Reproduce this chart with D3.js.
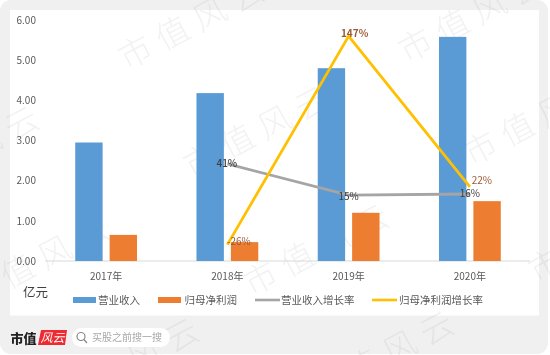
<!DOCTYPE html>
<html><head><meta charset="utf-8">
<script src="https://cdnjs.cloudflare.com/ajax/libs/d3/7.8.5/d3.min.js"></script>
<style>html,body{margin:0;padding:0;background:#fff}svg{display:block;filter:blur(0.35px)}text{font-family:"Noto Sans CJK SC","Noto Sans",sans-serif}</style>
</head><body><svg id="c" width="550" height="355"></svg>
<script>
const categories=["2017年","2018年","2019年","2020年"];
const revenue=[2.95,4.18,4.80,5.58];
const profit=[0.65,0.47,1.20,1.49];
const revenueGrowth=[null,41,15,16];
const profitGrowth=[null,-26,147,22];
const yTicks=[0,1,2,3,4,5,6];
const legendNames=["营业收入","归母净利润","营业收入增长率","归母净利润增长率"];
const watermarkText=["市","值","风","云"];
const watermarks=[[190,22],[255,130],[470,15],[535,118],[35,260],[-35,150],[315,248],[600,235],[380,355],[125,362]];
const svg=d3.select("#c");
svg.append("rect").attr("width",548).attr("height",354).attr("rx",11).attr("fill","#f0f0f0");
svg.append("rect").attr("x",10).attr("y",10).attr("width",529).attr("height",305.5).attr("fill","#fff");
const x=d3.scaleBand().domain(categories).range([45.5,530.5]);
const y=d3.scaleLinear().domain([0,6]).range([261,20]);
const y2=d3.scaleLinear().domain([-40,160]).range([261.5,20.5]);
const barW=27.4,gap=7;
const cx=c=>x(c)+x.bandwidth()/2;
const wm=svg.append("g").attr("fill","#8a8a8a").attr("opacity",0.11);
const g=svg.append("g");
g.append("line").attr("x1",45).attr("x2",530).attr("y1",261).attr("y2",261).attr("stroke","#d9d9d9");
yTicks.forEach(t=>g.append("text").attr("x",16.5).attr("y",y(t)+3.7).attr("font-size",10).attr("fill","#595959").text(t.toFixed(2)));
g.selectAll(".r").data(categories).join("rect").attr("x",c=>cx(c)-gap/2-barW).attr("width",barW)
 .attr("y",(c,i)=>y(revenue[i])).attr("height",(c,i)=>y(0)-y(revenue[i])).attr("fill","#5b9bd5");
g.selectAll(".p").data(categories).join("rect").attr("x",c=>cx(c)+gap/2).attr("width",barW)
 .attr("y",(c,i)=>y(profit[i])).attr("height",(c,i)=>y(0)-y(profit[i])).attr("fill","#ed7d31");
g.selectAll(".c").data(categories).join("text").attr("x",cx).attr("y",280).attr("text-anchor","middle").attr("font-size",10).attr("fill","#595959").text(c=>c);
const line=d3.line().defined(d=>d.v!==null).x(d=>cx(d.c)).y(d=>y2(d.v));
const s1=categories.map((c,i)=>({c,v:revenueGrowth[i]}));
const s2=categories.map((c,i)=>({c,v:profitGrowth[i]}));
g.append("path").attr("d",line(s1)).attr("fill","none").attr("stroke","#a5a5a5").attr("stroke-width",2.8).attr("stroke-linejoin","round");
g.append("path").attr("d",line(s2)).attr("fill","none").attr("stroke","#ffc000").attr("stroke-width",2.8).attr("stroke-linejoin","round");
const lab=(arr,col,dx,dy,w)=>arr.forEach((d,i)=>{if(d.v===null)return;
 g.append("text").attr("x",cx(d.c)+dx[i]).attr("y",y2(d.v)+dy[i]).attr("text-anchor","middle").attr("font-size",10).attr("font-weight",w[i]).attr("fill",col).text(d.v+"%");});
lab(s1,"#404040",[0,-0.5,0,0],[0,3,4.5,3],[400,500,400,400]);
lab(s2,"#9c5a33",[0,11.5,6,12],[0,0,1.2,-2.3],[400,400,700,400]);
// legend
const lg=[[73,"bar","#5b9bd5",98],[158,"bar","#ed7d31",184.5],[255,"line","#a5a5a5",281],[372,"line","#ffc000",399]];
lg.forEach((l,i)=>{
 if(l[1]==="bar")g.append("rect").attr("x",l[0]).attr("y",297).attr("width",23).attr("height",6).attr("fill",l[2]);
 else g.append("line").attr("x1",l[0]).attr("x2",l[0]+25).attr("y1",300).attr("y2",300).attr("stroke",l[2]).attr("stroke-width",2.6);
 g.append("text").attr("x",l[3]).attr("y",304).attr("font-size",10.5).attr("fill","#595959").text(legendNames[i]);
});
g.append("text").attr("x",23).attr("y",296.5).attr("font-size",12.5).attr("fill","#404040").text("亿元");
// footer
svg.append("text").attr("x",10.5).attr("y",342.5).attr("font-size",13).attr("font-weight",900).attr("fill","#222").text("市值");
svg.append("path").attr("d","M41 330H67L65 345H38Z").attr("fill","#ee2b33");
svg.append("text").attr("x",52.5).attr("y",342).attr("text-anchor","middle").attr("font-size",12).attr("font-style","italic").attr("fill","#fff").text("风云");
svg.append("rect").attr("x",72).attr("y",328).attr("width",98).attr("height",19).attr("rx",9.5).attr("fill","#fff");
svg.append("circle").attr("cx",81).attr("cy",336.5).attr("r",4).attr("fill","none").attr("stroke","#888").attr("stroke-width",1.2);
svg.append("line").attr("x1",84).attr("y1",339.5).attr("x2",87).attr("y2",343).attr("stroke","#888").attr("stroke-width",1.2);
svg.append("text").attr("x",92).attr("y",341).attr("font-size",10).attr("fill","#a8a8a8").text("买股之前搜一搜");
// watermarks: each glyph placed along a tilted baseline, clipped naturally by the page edge
watermarks.forEach(w=>watermarkText.forEach((ch,i)=>wm.append("text")
 .attr("transform",`translate(${w[0]+(i-1.5)*37},${w[1]-(i-1.5)*19}) rotate(-28)`)
 .attr("text-anchor","middle").attr("dominant-baseline","central").attr("font-size",33).attr("font-weight",200).text(ch)));
</script></body></html>
